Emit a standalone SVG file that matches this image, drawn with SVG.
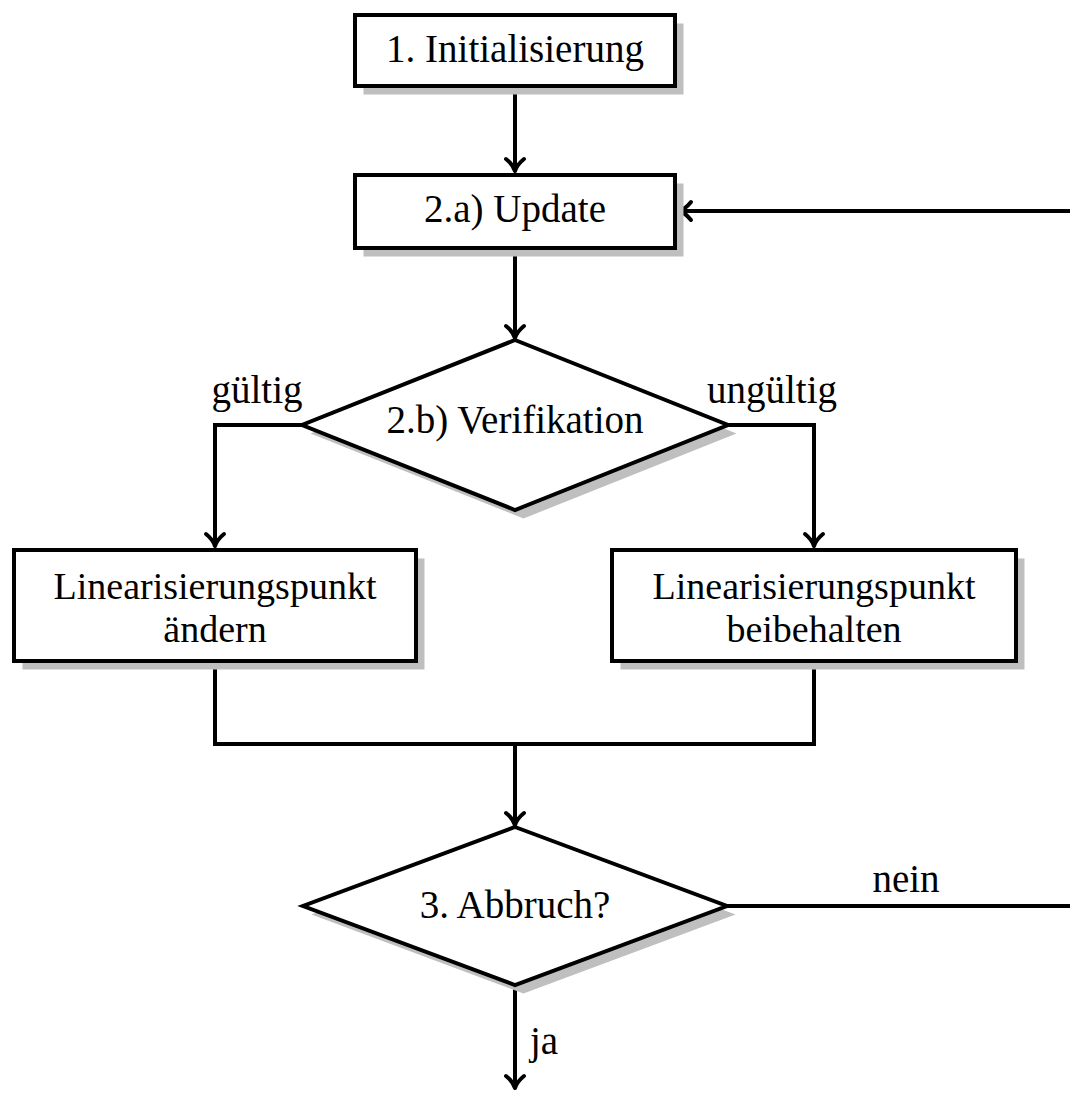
<svg xmlns="http://www.w3.org/2000/svg" width="1070" height="1093" viewBox="0 0 1070 1093">
  <style>
    .shape { fill: #ffffff; stroke: #000000; stroke-width: 4; stroke-linejoin: miter; }
    .shadow { fill: #bfbfbf; stroke: none; }
    .edge { fill: none; stroke: #000000; stroke-width: 4; stroke-linejoin: miter; }
    .label { font-family: "Liberation Serif", "DejaVu Serif", serif; font-size: 39px; fill: #000000; text-anchor: middle; }
    .two-line { font-size: 38px; }
  </style>
  <defs>
    <marker id="arrow" markerUnits="userSpaceOnUse" viewBox="-16 -12 20 24" refX="0" refY="0" markerWidth="20" markerHeight="24" orient="auto">
      <path d="M -12,-9 C -8,-4 -3,-1 0,0 C -3,1 -8,4 -12,9" fill="none" stroke="#000000" stroke-width="4" stroke-linecap="round" stroke-linejoin="round"/>
    </marker>
  </defs>

  <rect width="1070" height="1093" fill="#ffffff"/>

  <!-- connectors -->
  <g id="connectors">
    <path class="edge" d="M515,86 L515,171" marker-end="url(#arrow)"/>
    <path class="edge" d="M515,248 L515,338" marker-end="url(#arrow)"/>
    <path class="edge" d="M302,425 L215,425 L215,546" marker-end="url(#arrow)"/>
    <path class="edge" d="M728,425 L814,425 L814,546" marker-end="url(#arrow)"/>
    <path class="edge" d="M215,661 L215,744 L814,744 L814,661"/>
    <path class="edge" d="M515,744 L515,825" marker-end="url(#arrow)"/>
    <path class="edge" d="M727,906 L1080,906 L1080,211 L679,211" marker-end="url(#arrow)"/>
    <path class="edge" d="M515,985 L515,1088" marker-end="url(#arrow)"/>
    <text class="label" x="257" y="403">gültig</text>
    <text class="label" x="772" y="403">ungültig</text>
    <text class="label" x="906" y="892">nein</text>
    <text class="label" x="530" y="1054" style="text-anchor:start">ja</text>
  </g>

  <!-- 1. Initialisierung -->
  <g id="node-init">
    <rect class="shadow" x="363.5" y="23.5" width="320" height="71"/>
    <rect class="shape" x="355" y="15" width="320" height="71"/>
    <text class="label" x="515" y="62">1. Initialisierung</text>
  </g>

  <!-- 2.a) Update -->
  <g id="node-update">
    <rect class="shadow" x="363.5" y="183.5" width="320" height="73"/>
    <rect class="shape" x="355" y="175" width="320" height="73"/>
    <text class="label" x="515" y="222">2.a) Update</text>
  </g>

  <!-- 2.b) Verifikation -->
  <g id="node-verify">
    <polygon class="shadow" points="523.5,348.5 736.5,433.5 523.5,518.5 310.5,433.5"/>
    <polygon class="shape" points="515,340 728,425 515,510 302,425"/>
    <text class="label" x="515" y="433">2.b) Verifikation</text>
  </g>

  <!-- Linearisierungspunkt ändern -->
  <g id="node-change">
    <rect class="shadow" x="22.5" y="558.5" width="402" height="111"/>
    <rect class="shape" x="14" y="550" width="402" height="111"/>
    <text class="label two-line" x="215" y="599">Linearisierungspunkt</text>
    <text class="label two-line" x="215" y="642">ändern</text>
  </g>

  <!-- Linearisierungspunkt beibehalten -->
  <g id="node-keep">
    <rect class="shadow" x="620.5" y="558.5" width="404" height="111"/>
    <rect class="shape" x="612" y="550" width="404" height="111"/>
    <text class="label two-line" x="814" y="599">Linearisierungspunkt</text>
    <text class="label two-line" x="814" y="642">beibehalten</text>
  </g>

  <!-- 3. Abbruch? -->
  <g id="node-stop">
    <polygon class="shadow" points="523.5,835.5 735.5,914.5 523.5,993.5 311.5,914.5"/>
    <polygon class="shape" points="515,827 727,906 515,985 303,906"/>
    <text class="label" x="515" y="918">3. Abbruch?</text>
  </g>
</svg>
